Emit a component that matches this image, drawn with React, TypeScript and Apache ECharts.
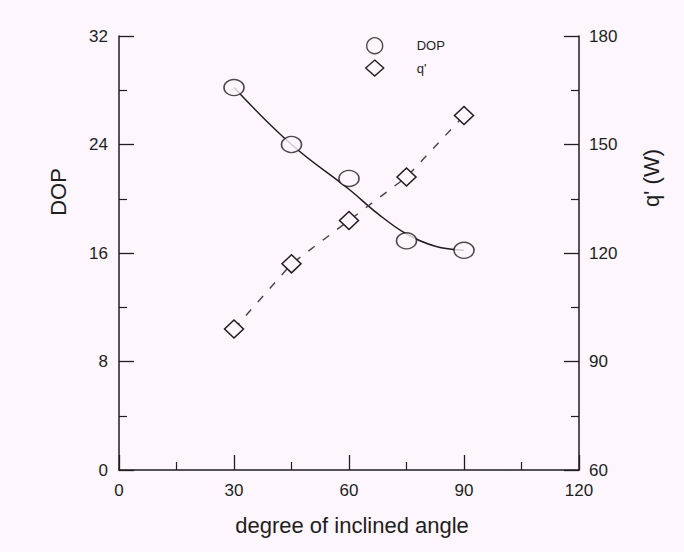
import React, { useEffect, useRef } from "react";
import * as echarts from "echarts";

const angles = [30, 45, 60, 75, 90];
const dopValues = [28.2, 24.0, 21.5, 16.9, 16.2];
const qValues = [99, 117, 129, 141, 158];
const fitAngles = [30, 45, 60, 67.5, 75, 82.5, 90];
const fitDop = [28.2, 24.0, 20.7, 18.9, 17.4, 16.5, 16.2];
const xTicks = { min: 0, max: 120, interval: 30 };
const dopTicks = { min: 0, max: 32, interval: 8 };
const qTicks = { min: 60, max: 180, interval: 30 };

const BG = "#fdf6fd";
const INK = "#1e1e1e";
const FONT = "'Liberation Sans', Arial, sans-serif";

export default function App() {
  const ref = useRef<HTMLDivElement>(null);
  useEffect(() => {
    if (!ref.current) return;
    const chart = echarts.init(ref.current, null, { renderer: "svg" });
    const axisCommon = {
      splitLine: { show: false },
      axisLine: { show: true, onZero: false, lineStyle: { color: INK, width: 1.5 } },
      axisTick: { show: true, inside: true, length: 15, lineStyle: { color: INK, width: 1.3 } },
      minorTick: { show: true, splitNumber: 2, length: 8, lineStyle: { color: INK, width: 1.2 } },
      axisLabel: { color: INK, fontSize: 17, fontFamily: FONT },
    };
    chart.setOption({
      animation: false,
      backgroundColor: BG,
      grid: { left: 119, right: 105, top: 36, bottom: 82 },
      xAxis: {
        type: "value",
        ...xTicks,
        ...axisCommon,
        axisLabel: { ...axisCommon.axisLabel, margin: 12 },
      },
      yAxis: [
        {
          type: "value",
          position: "left",
          ...dopTicks,
          ...axisCommon,
          axisLabel: { ...axisCommon.axisLabel, margin: 11 },
        },
        {
          type: "value",
          position: "right",
          ...qTicks,
          ...axisCommon,
          axisLabel: { ...axisCommon.axisLabel, margin: 10 },
        },
      ],
      legend: {
        orient: "vertical",
        left: 360,
        top: 32,
        itemWidth: 18,
        itemHeight: 16,
        itemGap: 5,
        data: [
          { name: "DOP", icon: "circle" },
          { name: "q'", icon: "diamond" },
        ],
        itemStyle: { color: BG, borderColor: INK, borderWidth: 1.4 },
        textStyle: { color: INK, fontSize: 13, fontFamily: FONT, padding: [0, 0, 0, 28] },
      },
      series: [
        {
          name: "DOP fit",
          type: "line",
          yAxisIndex: 0,
          smooth: 0.4,
          symbol: "none",
          data: fitAngles.map((a, i) => [a, fitDop[i]]),
          lineStyle: { color: INK, width: 1.5 },
          z: 2,
        },
        {
          name: "DOP",
          type: "scatter",
          yAxisIndex: 0,
          symbol: "circle",
          symbolSize: [20, 16],
          data: angles.map((a, i) => [a, dopValues[i]]),
          itemStyle: { color: BG, borderColor: INK, borderWidth: 1.5 },
          z: 5,
        },
        {
          name: "q'",
          type: "line",
          yAxisIndex: 1,
          symbol: "diamond",
          symbolSize: [19, 18],
          showAllSymbol: true,
          data: angles.map((a, i) => [a, qValues[i]]),
          lineStyle: { color: "#444", width: 1.4, type: [8, 10] },
          itemStyle: { color: BG, borderColor: INK, borderWidth: 1.5 },
          z: 4,
        },
      ],
      graphic: [
        {
          type: "text",
          x: 58,
          y: 192,
          rotation: Math.PI / 2,
          style: {
            text: "DOP",
            fill: INK,
            font: `22px ${FONT}`,
            align: "center",
            verticalAlign: "middle",
          },
        },
        {
          type: "text",
          x: 651,
          y: 178,
          rotation: Math.PI / 2,
          style: {
            text: "q' (W)",
            fill: INK,
            font: `22px ${FONT}`,
            align: "center",
            verticalAlign: "middle",
          },
        },
        {
          type: "text",
          x: 352,
          y: 525,
          style: {
            text: "degree of inclined angle",
            fill: INK,
            font: `22px ${FONT}`,
            align: "center",
            verticalAlign: "middle",
          },
        },
      ],
    });
    return () => chart.dispose();
  }, []);
  return (
    <div
      ref={ref}
      style={{ position: "fixed", left: 0, top: 0, width: 684, height: 552 }}
    />
  );
}
